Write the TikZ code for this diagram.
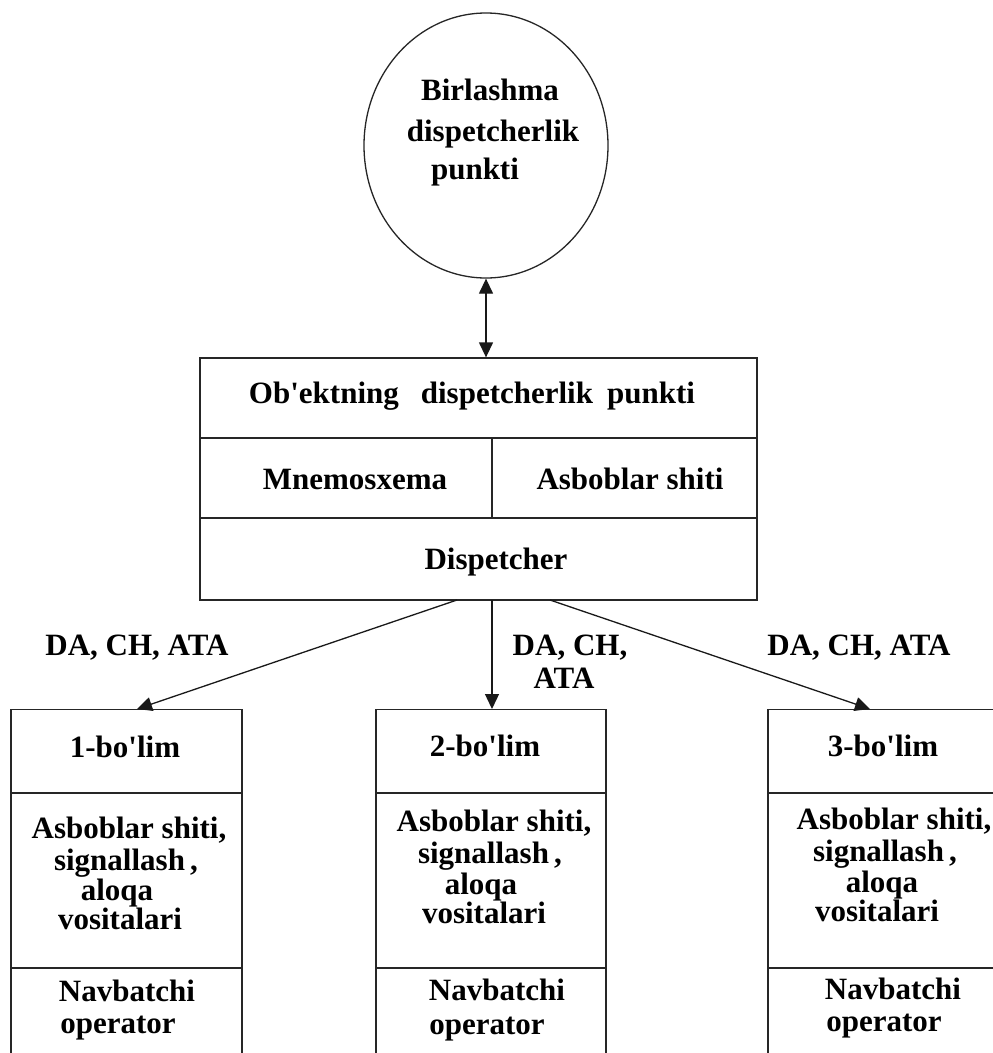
\documentclass[tikz,border=0pt]{standalone}
\usepackage{fontspec}
\setmainfont{Liberation Serif}[Ligatures=TeXOff]
\usetikzlibrary{shapes.geometric,arrows.meta}
\begin{document}
\begin{tikzpicture}[x=1pt,y=-1pt,
  txt/.style={inner sep=0pt, text height=22pt, text depth=6pt, font=\fontsize{31}{33}\selectfont\bfseries},
  frame/.style={draw=black!85, line width=1.3pt},
  conn/.style={draw=black!90, line width=1.3pt, -{Triangle[length=15pt,width=14pt]}},
  bconn/.style={draw=black!90, line width=1.3pt, {Triangle[length=15pt,width=14pt]}-{Triangle[length=15pt,width=14pt]}}]
\useasboundingbox (0,0) rectangle (993,1053);
\clip (0,0) rectangle (993,1053);
\fill[white] (0,0) rectangle (993,1053);

% top ellipse
\node[frame, ellipse, inner sep=0pt, minimum width=244pt, minimum height=265pt] (bdp) at (486,145.5) {};
\node[txt] (bdpa) at (490,92) {Birlashma};
\node[txt] (bdpb) at (493,133) {dispetcherlik};
\node[txt] (bdpc) at (475,171) {punkti};

% middle box
\node[frame, rectangle, inner sep=0pt, minimum width=557pt, minimum height=242pt] (odp) at (478.5,479) {};
\draw[frame] (odp.west |- 0,438) -- (odp.east |- 0,438);
\draw[frame] (odp.west |- 0,518) -- (odp.east |- 0,518);
\draw[frame] (492,438) -- (492,518);
\node[txt] (odpt) at (472,395) {Ob'ektning\hspace{22pt}dispetcherlik\hspace{14pt}punkti};
\node[txt] (mnem) at (355,481) {Mnemosxema};
\node[txt] (asb) at (630,481) {Asboblar shiti};
\node[txt] (disp) at (496,561) {Dispetcher};

\draw[bconn] (bdp.south) -- (odp.north -| bdp.south);

% bottom boxes
\node[frame, rectangle, inner sep=0pt, minimum width=231pt, minimum height=380pt, anchor=north] (b1) at (126.5,709) {};
\node[frame, rectangle, inner sep=0pt, minimum width=230pt, minimum height=380pt, anchor=north] (b2) at (491,709) {};
\node[frame, rectangle, inner sep=0pt, minimum width=232pt, minimum height=380pt, anchor=north] (b3) at (884,709) {};
\foreach \b in {b1,b2,b3}{
  \draw[frame] (\b.west |- 0,793) -- (\b.east |- 0,793);
  \draw[frame] (\b.west |- 0,968) -- (\b.east |- 0,968);
}

% arrows
\coordinate (s1) at (457,600);
\coordinate (s2) at (492,600);
\coordinate (s3) at (550,600);
\coordinate (e1) at (137,709);
\coordinate (e2) at (492,709);
\coordinate (e3) at (870,709);
\draw[conn] (s1) -- (e1);
\draw[conn] (s2) -- (e2);
\draw[conn] (s3) -- (e3);

% arrow labels
\node[txt] (l1) at (137,647) {DA, CH, ATA};
\node[txt] (l2a) at (570,647) {DA, CH,};
\node[txt] (l2b) at (564,680) {ATA};
\node[txt] (l3) at (859,647) {DA, CH, ATA};

% box 1 texts
\node[txt] (t1) at (125,749) {1-bo'lim};
\node[txt] (a1) at (129,830) {Asboblar shiti,};
\node[txt] (g1) at (126,862) {signallash\,,};
\node[txt] (q1) at (117,892) {aloqa};
\node[txt] (v1) at (120,921) {vositalari};
\node[txt] (n1) at (127,993) {Navbatchi};
\node[txt] (o1) at (118,1025) {operator};

% box 2 texts
\node[txt] (t2) at (485,748) {2-bo'lim};
\node[txt] (a2) at (494,823) {Asboblar shiti,};
\node[txt] (g2) at (490,855) {signallash\,,};
\node[txt] (q2) at (481,886) {aloqa};
\node[txt] (v2) at (484,915) {vositalari};
\node[txt] (n2) at (497,992) {Navbatchi};
\node[txt] (o2) at (487,1026) {operator};

% box 3 texts
\node[txt] (t3) at (883,748) {3-bo'lim};
\node[txt] (a3) at (894,821) {Asboblar shiti,};
\node[txt] (g3) at (885,853) {signallash\,,};
\node[txt] (q3) at (882,884) {aloqa};
\node[txt] (v3) at (877,913) {vositalari};
\node[txt] (n3) at (893,991) {Navbatchi};
\node[txt] (o3) at (884,1023) {operator};
\end{tikzpicture}
\end{document}
